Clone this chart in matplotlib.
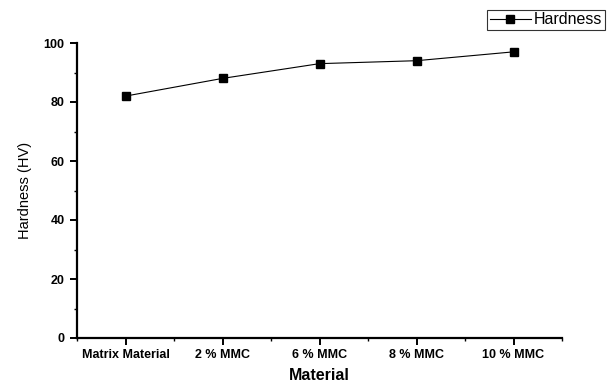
import matplotlib
matplotlib.use("Agg")
import matplotlib.pyplot as plt
from matplotlib.ticker import MultipleLocator, FixedLocator

categories = ["Matrix Material", "2 % MMC", "6 % MMC", "8 % MMC", "10 % MMC"]
hardness = [82, 88, 93, 94, 97]
yticks = [0, 20, 40, 60, 80, 100]

plt.rcParams['font.family'] = ['Liberation Sans', 'DejaVu Sans']

fig = plt.figure(figsize=(6.13, 3.85), dpi=100)
ax = fig.add_axes([77/613, 1 - 338/385, (562 - 77)/613, (338 - 43)/385])

x = list(range(len(categories)))
ax.plot(x, hardness, color='black', lw=0.8, marker='s', ms=5.5, mfc='black', mec='black', label='Hardness')

ax.set_xlim(-0.5, len(categories) - 0.5)
ax.set_ylim(0, 100)
ax.set_xticks(x)
ax.set_xticklabels(categories, fontsize=9, fontweight='bold')
ax.xaxis.set_minor_locator(FixedLocator([i + 0.5 for i in range(-1, len(categories))]))
ax.set_yticks(yticks)
ax.set_yticklabels([str(v) for v in yticks], fontsize=9, fontweight='bold')
ax.yaxis.set_minor_locator(MultipleLocator(10))

for s in ['top', 'right']:
    ax.spines[s].set_visible(False)
for s in ['left', 'bottom']:
    ax.spines[s].set_linewidth(1.6)

ax.tick_params(axis='both', which='major', direction='out', length=5, width=1.4)
ax.tick_params(axis='both', which='minor', direction='out', length=2, width=1.0)
ax.tick_params(axis='x', which='major', pad=3)
ax.tick_params(axis='y', which='major', pad=4)

ax.set_xlabel("Material", fontsize=11.5, fontweight='bold', labelpad=5)
ax.set_ylabel("Hardness (HV)", fontsize=10.5, labelpad=8)

leg = ax.legend(loc='upper right', bbox_to_anchor=(605/613, 1 - 10/385), bbox_transform=fig.transFigure,
                frameon=True, fancybox=False, fontsize=11.5, handlelength=2.6, borderpad=0.15,
                handletextpad=0.2, borderaxespad=0)
leg.get_frame().set_edgecolor('black')
leg.get_frame().set_linewidth(0.8)

fig.savefig("out.png", dpi=100)
